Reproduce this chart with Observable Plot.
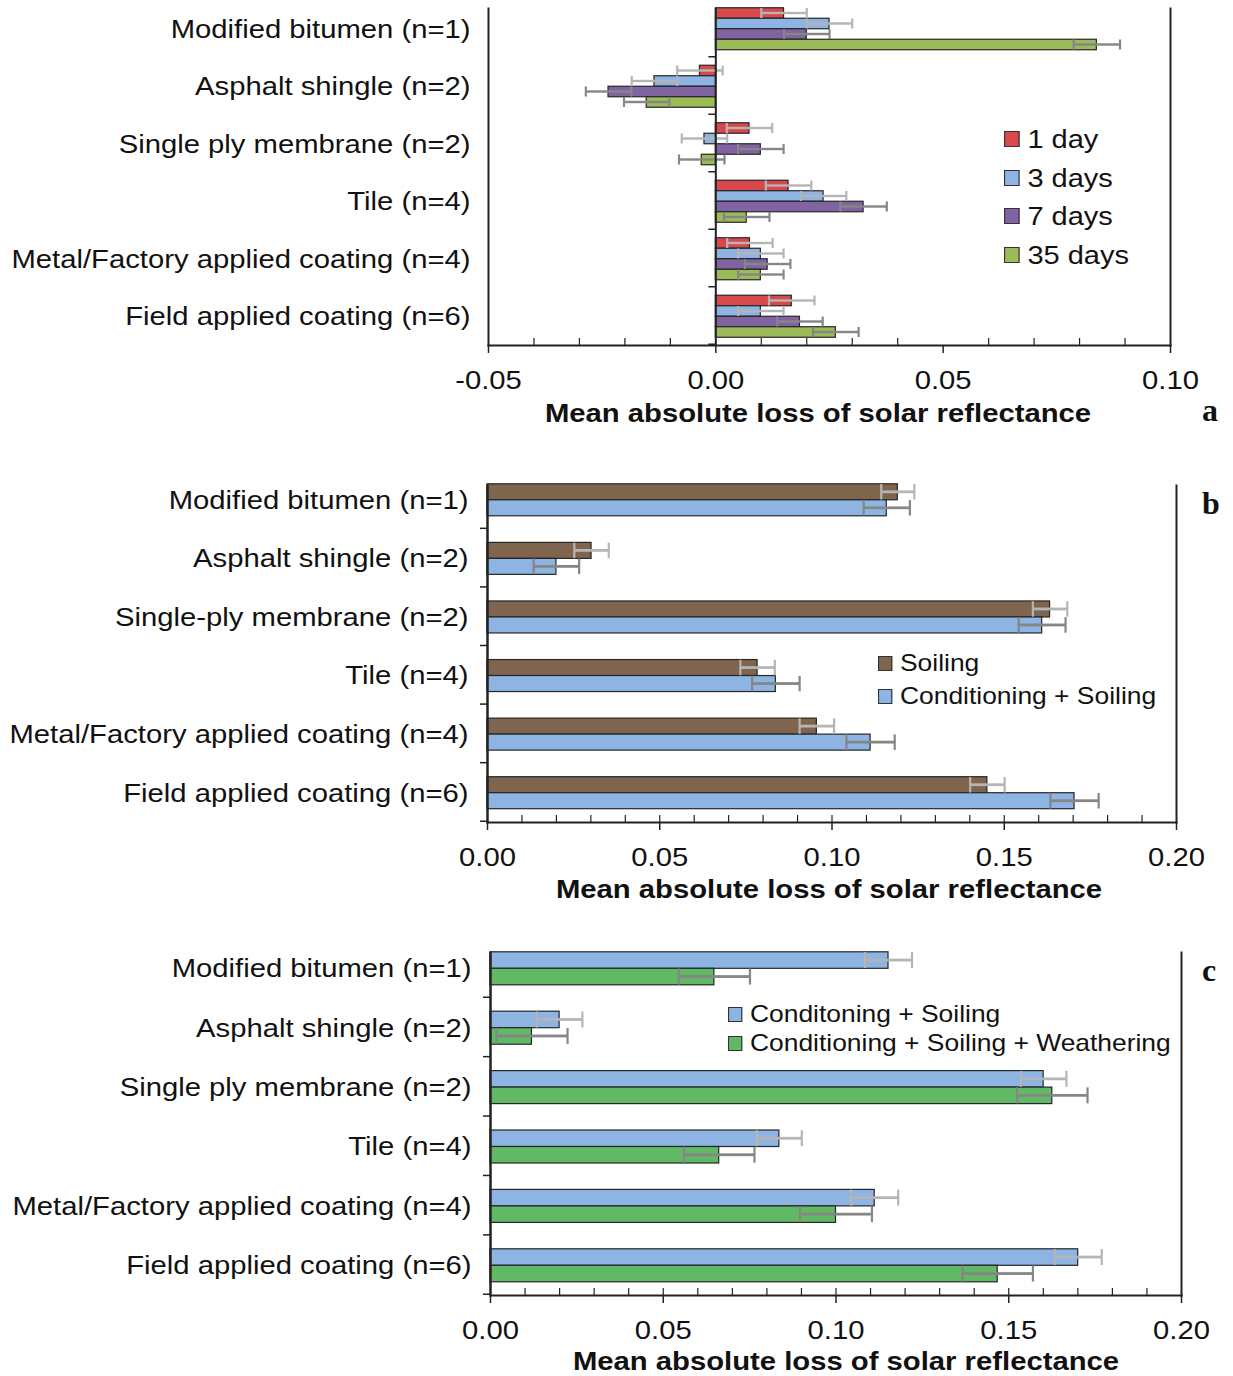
<!DOCTYPE html>
<html><head><meta charset="utf-8">
<script src="https://cdn.jsdelivr.net/npm/d3@7"></script>
<script src="https://cdn.jsdelivr.net/npm/@observablehq/plot@0.6"></script>
<style>
body{margin:0;background:#fff;}
#root{position:relative;width:1233px;height:1376px;overflow:hidden;background:#fff;font-family:"Liberation Sans",Arial,sans-serif;color:#111;}
#root svg{position:absolute;left:0;overflow:visible;}
.title{position:absolute;font-weight:bold;font-size:26px;white-space:nowrap;transform:translate(-50%,-50%) scaleX(1.125);line-height:1;}
.letter{position:absolute;font-family:"Liberation Serif","Times New Roman",serif;font-weight:bold;font-size:32px;transform:translate(-50%,-50%);line-height:1;}
.leg{position:absolute;white-space:nowrap;display:flex;align-items:center;transform-origin:0 50%;line-height:1;}
.sw{display:inline-block;border:1px solid #333;box-sizing:border-box;margin-right:7px;}
</style></head>
<body><div id="root"></div>
<script>
// ---------- DATA ----------
const categoriesA = ["Modified bitumen (n=1)", "Asphalt shingle (n=2)", "Single ply membrane (n=2)", "Tile (n=4)", "Metal/Factory applied coating (n=4)", "Field applied coating (n=6)"];
const seriesA = ["1 day", "3 days", "7 days", "35 days"];
const a1day    = [0.0150, -0.0035,  0.0074, 0.0160, 0.0075, 0.0167];
const a3days   = [0.0250, -0.0135, -0.0025, 0.0237, 0.0099, 0.0099];
const a7days   = [0.0200, -0.0236,  0.0099, 0.0325, 0.0114, 0.0185];
const a35days  = [0.0838, -0.0152, -0.0031, 0.0068, 0.0099, 0.0264];
const a1dayErr   = [0.005, 0.005, 0.005, 0.005, 0.005, 0.005];
const a3daysErr  = [0.005, 0.005, 0.005, 0.005, 0.005, 0.005];
const a7daysErr  = [0.005, 0.005, 0.005, 0.0051, 0.005, 0.005];
const a35daysErr = [0.0051, 0.005, 0.005, 0.005, 0.005, 0.005];
const aMajorTicks = [-0.05, 0, 0.05, 0.10];
const aMinorTicks = [-0.04, -0.03, -0.02, -0.01, 0.01, 0.02, 0.03, 0.04, 0.06, 0.07, 0.08, 0.09];

const categoriesB = ["Modified bitumen (n=1)", "Asphalt shingle (n=2)", "Single-ply membrane (n=2)", "Tile (n=4)", "Metal/Factory applied coating (n=4)", "Field applied coating (n=6)"];
const seriesB = ["Soiling", "Conditioning + Soiling"];
const bSoiling    = [0.1191, 0.0302, 0.1633, 0.0784, 0.0956, 0.1451];
const bSoilingErr = [0.0048, 0.0050, 0.0050, 0.0050, 0.0050, 0.0050];
const bCond       = [0.1159, 0.0200, 0.1610, 0.0837, 0.1112, 0.1704];
const bCondErr    = [0.0067, 0.0066, 0.0068, 0.0069, 0.0070, 0.0070];

const categoriesC = ["Modified bitumen (n=1)", "Asphalt shingle (n=2)", "Single ply membrane (n=2)", "Tile (n=4)", "Metal/Factory applied coating (n=4)", "Field applied coating (n=6)"];
const seriesC = ["Conditoning + Soiling", "Conditioning + Soiling + Weathering"];
const cCond       = [0.1152, 0.0200, 0.1601, 0.0836, 0.1112, 0.1701];
const cCondErr    = [0.0068, 0.0066, 0.0066, 0.0065, 0.0068, 0.0068];
const cWeath      = [0.0648, 0.0120, 0.1626, 0.0662, 0.1000, 0.1468];
const cWeathErr   = [0.0103, 0.0103, 0.0102, 0.0102, 0.0104, 0.0102];
const bcMajorTicks = [0, 0.05, 0.10, 0.15, 0.20];
const bcMinorTicks = [0.01, 0.02, 0.03, 0.04, 0.05, 0.06, 0.07, 0.08, 0.09, 0.10, 0.11, 0.12, 0.13, 0.14, 0.15, 0.16, 0.17, 0.18, 0.19];

const xTitle = "Mean absolute loss of solar reflectance";

// ---------- RENDER ----------
const root = document.getElementById("root");
const LIGHT = "#b5b5b5", DARK = "#868686", INK = "#222";
const STRETCH = 1.125;

function stretchText(svg) {
  svg.querySelectorAll('g[aria-label$="tick label"] text').forEach(t => {
    const tr = t.getAttribute("transform");
    if (tr) t.setAttribute("transform", tr + ` scale(${STRETCH},1)`);
    else {
      const x = +t.getAttribute("x") || 0, y = +t.getAttribute("y") || 0;
      t.setAttribute("transform", `translate(${x},${y}) scale(${STRETCH},1) translate(${-x},${-y})`);
    }
  });
}

function panel(o) {
  const S = (o.yRange[1] - o.yRange[0]) / o.categories.length;
  const n = o.series.length, h = o.group / n, pad = (S - o.group) / 2;
  const plotH = o.height - o.marginTop - o.marginBottom;
  const pxPerUnit = (o.right - o.left) / (o.xDomain[1] - o.xDomain[0]);
  const marks = [];
  const rowsAll = o.series.map((s, k) => o.categories.map((c, i) => ({cat: c, v: o.values[k][i], e: o.errors[k][i]})));
  rowsAll.forEach((rows, k) => {
    marks.push(Plot.barX(rows, {y: "cat", x1: () => 0, x2: "v", fill: o.colors[k], stroke: "#262626", strokeWidth: 1.2,
      insetTop: pad + k * h, insetBottom: S - (pad + (k + 1) * h)}));
  });
  rowsAll.forEach((rows, k) => {
    const c = pad + (k + 0.5) * h, capH = h - 0.5, lw = o.errWidth / 2;
    marks.push(Plot.barX(rows, {y: "cat", x1: d => d.v - d.e, x2: d => d.v + d.e, fill: o.errColors[k],
      insetTop: c - lw, insetBottom: S - c - lw}));
    marks.push(Plot.tickX(rows, {y: "cat", x: d => d.v - d.e, stroke: o.errColors[k], strokeWidth: 2.2, insetTop: c - capH / 2, insetBottom: S - c - capH / 2}));
    marks.push(Plot.tickX(rows, {y: "cat", x: d => d.v + d.e, stroke: o.errColors[k], strokeWidth: 2.2, insetTop: c - capH / 2, insetBottom: S - c - capH / 2}));
  });
  // category boundary ticks on the zero axis
  marks.push(Plot.barX(o.categories, {y: d => d, x1: () => -7 / pxPerUnit, x2: () => 0, fill: INK, insetTop: S - 1.5}));
  // frame & axes lines
  marks.push(Plot.ruleX(o.minorTicks, {stroke: INK, strokeWidth: 1.2, insetTop: plotH - 7}));
  marks.push(Plot.frame({anchor: "bottom", stroke: INK, strokeWidth: 2}));
  marks.push(Plot.frame({anchor: "right", stroke: INK, strokeWidth: 2}));
  if (o.leftFrame) marks.push(Plot.frame({anchor: "left", stroke: INK, strokeWidth: 2}));
  marks.push(Plot.ruleX([0], {stroke: INK, strokeWidth: 2}));
  marks.push(Plot.axisY({tickSize: 0, tickPadding: o.tickPad, fontSize: o.fontSize, label: null}));
  marks.push(Plot.axisX({ticks: o.majorTicks, tickFormat: d => d.toFixed(2), tickSize: 8, tickPadding: 17, fontSize: o.fontSize, label: null, stroke: INK, strokeWidth: 1.5}));
  const svg = Plot.plot({
    width: 1233, height: o.height,
    marginLeft: o.left, marginRight: 1233 - o.right, marginTop: o.marginTop, marginBottom: o.marginBottom,
    x: {domain: o.xDomain},
    y: {domain: o.categories, range: o.yRange, padding: 0, round: false},
    style: {fontFamily: '"Liberation Sans", Arial, sans-serif', color: "#111", background: "transparent"},
    marks
  });
  stretchText(svg);
  svg.style.top = o.top + "px";
  root.appendChild(svg);
}

function addText(cls, text, x, y) {
  const d = document.createElement("div");
  d.className = cls; d.textContent = text;
  d.style.left = x + "px"; d.style.top = y + "px";
  root.appendChild(d);
}
function legend(items, colors, left, tops, fontSize, sw, stretch) {
  items.forEach((t, i) => {
    const d = document.createElement("div");
    d.className = "leg";
    d.style.left = left + "px"; d.style.top = tops[i] + "px"; d.style.fontSize = fontSize + "px";
    d.style.transform = `translateY(-50%) scaleX(${stretch})`;
    const s = document.createElement("span");
    s.className = "sw"; s.style.background = colors[i]; s.style.width = sw[0] + "px"; s.style.height = sw[1] + "px";
    const tx = document.createElement("span"); tx.textContent = t;
    d.appendChild(s); d.appendChild(tx);
    root.appendChild(d);
  });
}

const colA = ["#d9484b", "#8db4e3", "#8064a2", "#9bbb59"];
panel({
  top: 0, height: 432, left: 488, right: 1170, marginTop: 8, marginBottom: 87, yRange: [0, 345], group: 42,
  categories: categoriesA, series: seriesA,
  values: [a1day, a3days, a7days, a35days], errors: [a1dayErr, a3daysErr, a7daysErr, a35daysErr],
  colors: colA, errColors: [LIGHT, LIGHT, DARK, DARK], errWidth: 2.4,
  xDomain: [-0.05, 0.10], majorTicks: aMajorTicks, minorTicks: aMinorTicks, leftFrame: true, tickPad: 18, fontSize: 26
});
const colB = ["#7f654d", "#8db4e3"];
panel({
  top: 460, height: 450, left: 487, right: 1176, marginTop: 25, marginBottom: 88, yRange: [10.5, 362], group: 32,
  categories: categoriesB, series: seriesB,
  values: [bSoiling, bCond], errors: [bSoilingErr, bCondErr],
  colors: colB, errColors: [LIGHT, DARK], errWidth: 2.8,
  xDomain: [0, 0.20], majorTicks: bcMajorTicks, minorTicks: bcMinorTicks, leftFrame: true, tickPad: 19, fontSize: 26
});
const colC = ["#8db4e3", "#62b965"];
panel({
  top: 930, height: 446, left: 490, right: 1181, marginTop: 22, marginBottom: 81, yRange: [8.6, 365], group: 33,
  categories: categoriesC, series: seriesC,
  values: [cCond, cWeath], errors: [cCondErr, cWeathErr],
  colors: colC, errColors: [LIGHT, DARK], errWidth: 2.8,
  xDomain: [0, 0.20], majorTicks: bcMajorTicks, minorTicks: bcMinorTicks, leftFrame: true, tickPad: 19, fontSize: 26
});

legend(seriesA, colA, 1004, [139, 178, 216, 255], 26, [14, 16], 1.115);
legend(seriesB, colB, 878, [663, 696], 24, [13, 15], 1.1);
legend(seriesC, colC, 728, [1014, 1043], 24, [13, 15], 1.1);

addText("title", xTitle, 818, 413);
addText("title", xTitle, 829, 889);
addText("title", xTitle, 846, 1361);
addText("letter", "a", 1210, 410);
addText("letter", "b", 1211, 503);
addText("letter", "c", 1209, 970);
</script>
</body></html>
